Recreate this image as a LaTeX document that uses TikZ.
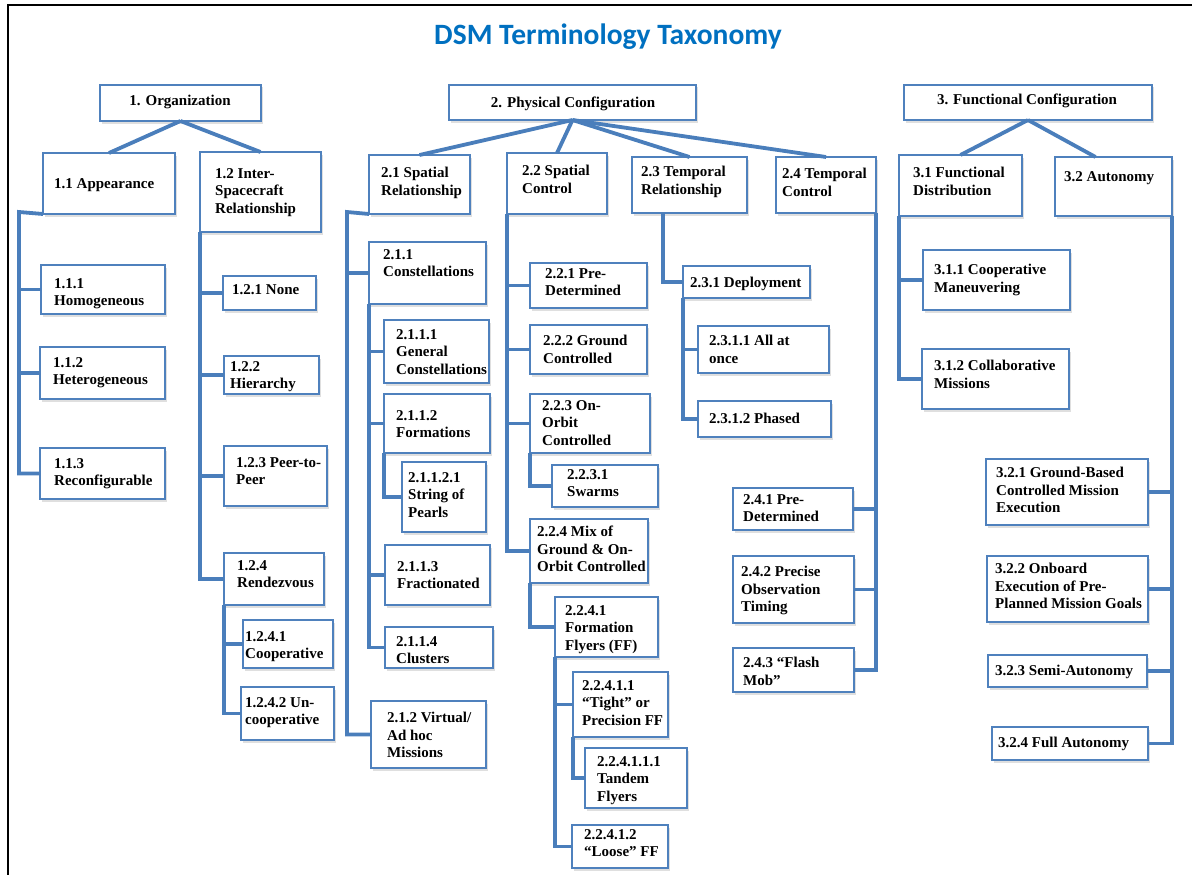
\documentclass[tikz,border=0pt]{standalone}
\usepackage{fontspec}
\setmainfont{Liberation Serif}
\newfontfamily\titlefont{Carlito}
\usepackage{tikz}
\usepackage{xcolor}
\usetikzlibrary{shadows}
\definecolor{boxblue}{RGB}{79,129,189}
\definecolor{linkblue}{RGB}{74,126,187}
\definecolor{titleblue}{RGB}{0,112,192}
\tikzset{box/.style={draw=boxblue, line width=1.4pt, fill=white, outer sep=0pt, inner sep=0pt,
   anchor=north west, drop shadow={opacity=0.25, shadow xshift=2pt, shadow yshift=-2.5pt}},
 txt/.style={anchor=north west, inner sep=0pt, align=left,
   font=\fontsize{15}{17.5}\selectfont\bfseries},
 toptxt/.style={txt, anchor=north},
 link/.style={draw=linkblue, line width=3.8pt},
 heading/.style={anchor=base, text=titleblue, font=\titlefont\fontsize{29.5}{34}\selectfont\bfseries},
 }

\begin{document}
\begin{tikzpicture}[x=1pt, y=-1pt]
    \useasboundingbox (0,0) rectangle (1192,875);
    \draw[line width=2.5pt] (8,875) -- (8,5) -- (1192,5);
    \node[heading] (title) at (608,45) {DSM Terminology Taxonomy};

    % top level
    \node[box, minimum width=161, minimum height=36] (b1) at (100,85) {};
    \node[toptxt] (b1-t) at (180,95) {1. Organization};
    \node[box, minimum width=247, minimum height=35] (b2) at (449,85) {};
    \node[toptxt] (b2-t) at (573,97) {2. Physical Configuration};
    \node[box, minimum width=248, minimum height=35] (b3) at (904,85) {};
    \node[toptxt] (b3-t) at (1027,94) {3. Functional Configuration};

    % name/left/top/width/height/text x/text y/text
    \foreach \n/\x/\y/\w/\h/\tx/\ty/\s in {
        b11/43/153/132/61/54/183/{1.1 Appearance},
        b12/200/152/121/80/215/173/{1.2 Inter-\\Spacecraft\\Relationship},
        b111/41/265/124/49/54/283/{1.1.1\\Homogeneous},
        b112/40/347/125/52/53/362/{1.1.2\\Heterogeneous},
        b113/40/448/125/51/54/463/{1.1.3\\Reconfigurable},
        b121/223/276/93/34/232/289/{1.2.1 None},
        b122/224/356/95/38/230/366/{1.2.2\\Hierarchy},
        b123/224/446/103/60/236/462/{1.2.3 Peer-to-\\Peer},
        b124/224/553/100/52/237/565/{1.2.4\\Rendezvous},
        b1241/243/620/90/48/245/636/{1.2.4.1\\Cooperative},
        b1242/241/687/93/53/245/702/{1.2.4.2 Un-\\cooperative},
        b21/369/155/101/59/381/172/{2.1 Spatial\\Relationship},
        b22/507/153/100/61/522/170/{2.2 Spatial\\Control},
        b23/632/157/115/56/641/171/{2.3 Temporal\\Relationship},
        b24/776/157/100/56/782/173/{2.4 Temporal\\Control},
        b211/369/242/117/62/383/254/{2.1.1\\Constellations},
        b2111/384/320/105/63/396/334/{2.1.1.1\\General\\Constellations},
        b2112/384/394/106/59/396/415/{2.1.1.2\\Formations},
        b21121/402/462/84/70/408/477/{2.1.1.2.1\\String of\\Pearls},
        b2113/385/545/105/60/397/566/{2.1.1.3\\Fractionated},
        b2114/385/627/108/41/396/641/{2.1.1.4\\Clusters},
        b212/371/701/115/67/387/717/{2.1.2 Virtual\slash\\Ad hoc\\Missions},
        b221/530/263/117/45/545/273/{2.2.1 Pre-\\Determined},
        b222/530/325/117/49/543/340/{2.2.2 Ground\\Controlled},
        b223/530/394/120/59/542/405/{2.2.3 On-\\Orbit\\Controlled},
        b2231/552/465/106/42/567/474/{2.2.3.1\\Swarms},
        b224/530/519/118/64/537/531/{2.2.4 Mix of\\Ground \& On-\\Orbit Controlled},
        b2241/555/597/103/60/565/610/{2.2.4.1\\Formation\\Flyers (FF)},
        b22411/573/672/95/65/582/685/{2.2.4.1.1\\“Tight” or\\Precision FF},
        b224111/585/748/102/60/597/761/{2.2.4.1.1.1\\Tandem\\Flyers},
        b22412/572/825/96/43/584/834/{2.2.4.1.2\\“Loose” FF},
        b231/683/266/127/32/690/282/{2.3.1 Deployment},
        b2311/698/326/131/47/709/340/{2.3.1.1 All at\\once},
        b2312/698/401/133/36/709/418/{2.3.1.2 Phased},
        b241/733/488/120/42/743/499/{2.4.1 Pre-\\Determined},
        b242/733/556/121/67/741/571/{2.4.2 Precise\\Observation\\Timing},
        b243/733/648/121/44/743/662/{2.4.3 “Flash\\Mob”},
        b31/899/155/123/61/913/172/{3.1 Functional\\Distribution},
        b32/1055/157/117/59/1064/176/{3.2 Autonomy},
        b311/923/250/147/60/934/269/{3.1.1 Cooperative\\Maneuvering},
        b312/922/349/147/60/934/365/{3.1.2 Collaborative\\Missions},
        b321/986/459/162/66/996/472/{3.2.1 Ground-Based\\Controlled Mission\\Execution},
        b322/987/556/161/66/995/568/{3.2.2 Onboard\\Execution of Pre-\\Planned Mission Goals},
        b323/988/655/159/32/995/670/{3.2.3 Semi-Autonomy},
        b324/992/727/156/33/998/742/{3.2.4 Full Autonomy}}
    {
        \node[box, minimum width=\w, minimum height=\h] (\n) at (\x,\y) {};
        \node[txt] (\n-t) at (\tx,\ty-5) {\s};
    }

    % fans from the three roots
    \draw[link] (b1.south) -- (b11.north);
    \draw[link] (b1.south) -- (b12.north);
    \foreach \c in {b21,b22,b23,b24}
        \draw[link] (b2.south) -- (\c.north);
    \draw[link] (b3.south) -- (b31.north);
    \draw[link] (b3.south) -- ([xshift=-18pt]b32.north);

    % 1.x
    \coordinate (u11) at (19,212);
    \draw[link] (b11.south west) -- (u11) |- (b113.west);
    \foreach \c in {b111,b112}
        \draw[link] (\c.west) -- (\c.west -| u11);
    \draw[link] (b12.south west) |- (b124.west);
    \foreach \c in {b121,b122,b123}
        \draw[link] (\c.west) -- (\c.west -| b12.south west);
    \draw[link] (b124.south west) |- (b1242.west);
    \draw[link] (b1241.west) -- (b1241.west -| b124.south west);

    % 2.1
    \coordinate (u21) at (347,212);
    \draw[link] (b21.south west) -- (u21) |- (b212.west);
    \draw[link] (b211.west) -- (b211.west -| u21);
    \draw[link] (b211.south west) |- (b2114.west);
    \foreach \c in {b2111,b2112,b2113}
        \draw[link] (\c.west) -- (\c.west -| b211.south west);
    \draw[link] (b2112.south west) |- (b21121.west);

    % 2.2
    \draw[link] (b22.south west) |- (b224.west);
    \foreach \c in {b221,b222,b223}
        \draw[link] (\c.west) -- (\c.west -| b22.south west);
    \draw[link] (b223.south west) |- (b2231.west);
    \draw[link] (b224.south west) |- (b2241.west);
    \draw[link] (b2241.south west) |- (b22412.west);
    \draw[link] (b22411.west) -- (b22411.west -| b2241.south west);
    \draw[link] (b22411.south west) |- (b224111.west);

    % 2.3 and 2.4
    \coordinate (u23) at (663,213);
    \draw[link] (u23) |- (b231.west);
    \draw[link] (b231.south west) |- (b2312.west);
    \draw[link] (b2311.west) -- (b2311.west -| b231.south west);
    \draw[link] (b24.south east) |- (b243.east);
    \foreach \c in {b241,b242}
        \draw[link] (\c.east) -- (\c.east -| b24.south east);

    % 3.x
    \draw[link] (b31.south west) |- (b312.west);
    \draw[link] (b311.west) -- (b311.west -| b31.south west);
    \draw[link] (b32.south east) |- (b324.east);
    \foreach \c in {b321,b322,b323}
        \draw[link] (\c.east) -- (\c.east -| b32.south east);
\end{tikzpicture}
\end{document}
